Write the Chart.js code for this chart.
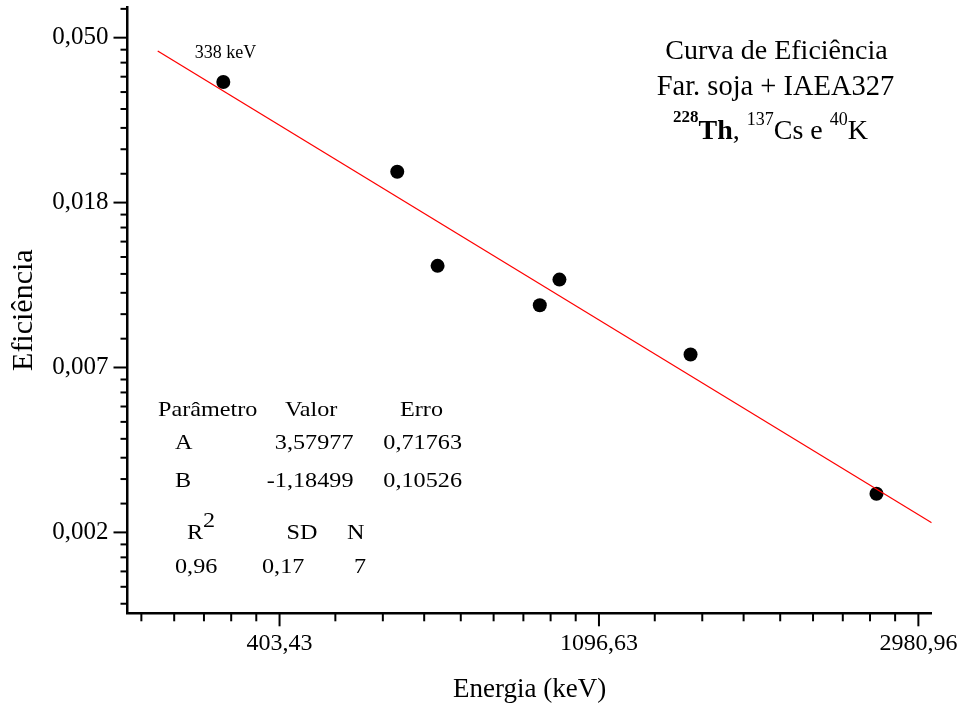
<!DOCTYPE html>
<html>
<head>
<meta charset="utf-8">
<script src="https://cdn.jsdelivr.net/npm/chart.js@4.4.0/dist/chart.umd.min.js"></script>
<style>
body { margin: 0; background: #fff; }
canvas { display: block; }
</style>
</head>
<body>
<canvas id="grafico" width="961" height="708"></canvas>
<script>
const energias = [338.3, 583.2, 661.7, 911.2, 969.0, 1460.8, 2614.5];
const eficiencias = [0.03805, 0.02209, 0.01248, 0.00983, 0.01148, 0.00729, 0.003133];

// extremos da reta ajustada
const retaEnergias = [275.5, 3108];
const retaEficiencias = [0.04593, 0.002628];

// marcas principais em ln e seus rótulos
const marcasX = [6, 7, 8];
const rotulosX = ['403,43', '1096,63', '2980,96'];
const marcasY = [-6, -5, -4, -3];
const rotulosY = ['0,002', '0,007', '0,018', '0,050'];

// tabela do ajuste
const parametros = ['A', 'B'];
const valores = ['3,57977', '-1,18499'];
const erros = ['0,71763', '0,10526'];
const estatisticas = ['0,96', '0,17', '7'];

const limitesX = [5.524, 8.0417];
const limitesY = [-6.4906, -2.814];

const serif = '"Liberation Serif", "Times New Roman", serif';

function marcasLog(min, max) {
    // marcas principais nas potências de e, 8 secundárias lineares entre elas
    const lista = [];
    for (let k = Math.floor(min) - 1; k <= Math.ceil(max); k++) {
        const a = Math.exp(k), b = Math.exp(k + 1);
        if (k >= min && k <= max) lista.push({ value: k, principal: true });
        for (let j = 1; j <= 8; j++) {
            const v = Math.log(a + j * (b - a) / 9);
            if (v >= min && v <= max) lista.push({ value: v, principal: false });
        }
    }
    return lista.sort((p, q) => p.value - q.value);
}

function semPadding(s) {
    s.paddingTop = 0;
    s.paddingBottom = 0;
    s.paddingLeft = 0;
    s.paddingRight = 0;
}

function texto(ctx, s, x, y, fonte, esticar) {
    ctx.save();
    ctx.font = fonte;
    ctx.translate(x, y);
    ctx.scale(esticar || 1, 1);
    ctx.fillText(s, 0, 0);
    ctx.restore();
}

const anotacoes = {
    id: 'anotacoes',
    afterDraw(chart) {
        const ctx = chart.ctx;
        const sx = chart.scales.x, sy = chart.scales.y;
        ctx.save();
        ctx.strokeStyle = '#000';
        ctx.lineWidth = 2;
        // marcas do eixo x
        sx.ticks.forEach(t => {
            const px = sx.getPixelForValue(t.value);
            ctx.beginPath();
            ctx.moveTo(px, sy.bottom);
            ctx.lineTo(px, sy.bottom + (t.principal ? 13 : 8));
            ctx.stroke();
        });
        // marcas do eixo y
        sy.ticks.forEach(t => {
            const py = sy.getPixelForValue(t.value);
            ctx.beginPath();
            ctx.moveTo(sx.left, py);
            ctx.lineTo(sx.left - (t.principal ? 14 : 7), py);
            ctx.stroke();
        });

        ctx.fillStyle = '#000';
        ctx.textBaseline = 'alphabetic';
        ctx.textAlign = 'center';
        texto(ctx, '338 keV', 225.5, 58, '18px ' + serif);
        texto(ctx, 'Curva de Eficiência', 776.5, 59, '28px ' + serif);
        texto(ctx, 'Far. soja + IAEA327', 775.5, 95, '28.5px ' + serif);

        // linha com sobrescritos
        const partes = [
            ['228', 'bold 17px ' + serif, 17],
            ['Th', 'bold 28px ' + serif, 0],
            [', ', '28px ' + serif, 0],
            ['137', '18px ' + serif, 14],
            ['Cs e ', '28px ' + serif, 0],
            ['40', '18px ' + serif, 14],
            ['K', '28px ' + serif, 0]
        ];
        ctx.textAlign = 'left';
        let largura = 0;
        partes.forEach(p => { ctx.font = p[1]; largura += ctx.measureText(p[0]).width; });
        let x = 770.5 - largura / 2;
        partes.forEach(p => {
            ctx.font = p[1];
            ctx.fillText(p[0], x, 139 - p[2]);
            x += ctx.measureText(p[0]).width;
        });

        // tabela de parâmetros
        const f = '22px ' + serif, e = 1.1;
        texto(ctx, 'Parâmetro', 158, 416, f, e);
        texto(ctx, 'Valor', 285, 416, f, e);
        texto(ctx, 'Erro', 400, 416, f, e);
        parametros.forEach((p, i) => texto(ctx, p, 175, 449 + i * 37.5, f, e));
        ctx.textAlign = 'right';
        valores.forEach((v, i) => texto(ctx, v, 353.5, 449 + i * 37.5, f, e));
        erros.forEach((v, i) => texto(ctx, v, 462, 449 + i * 37.5, f, e));
        ctx.textAlign = 'left';
        texto(ctx, 'R', 187, 539, f, e);
        texto(ctx, '2', 203, 527, f, e);
        texto(ctx, 'SD', 286.5, 539, f, e);
        texto(ctx, 'N', 347, 539, f, e);
        texto(ctx, estatisticas[0], 175, 573, f, e);
        texto(ctx, estatisticas[1], 262, 573, f, e);
        texto(ctx, estatisticas[2], 354, 573, f, e);
        ctx.restore();
    }
};

const pontos = energias.map((en, i) => ({ x: Math.log(en), y: Math.log(eficiencias[i]) }));
const reta = retaEnergias.map((en, i) => ({ x: Math.log(en), y: Math.log(retaEficiencias[i]) }));

new Chart(document.getElementById('grafico'), {
    type: 'scatter',
    data: {
        datasets: [
            {
                data: reta,
                showLine: true,
                borderColor: '#ff0000',
                borderWidth: 1.3,
                pointRadius: 0
            },
            {
                data: pontos,
                backgroundColor: '#000',
                borderWidth: 0,
                pointRadius: 7
            }
        ]
    },
    options: {
        responsive: false,
        animation: false,
        devicePixelRatio: 1,
        layout: { padding: { top: 7, right: 29.3, left: 0, bottom: 0 } },
        plugins: { legend: { display: false }, tooltip: { enabled: false } },
        scales: {
            x: {
                type: 'linear',
                min: limitesX[0],
                max: limitesX[1],
                afterBuildTicks: s => { s.ticks = marcasLog(limitesX[0], limitesX[1]); },
                afterFit: s => { s.height = 94.7; semPadding(s); },
                grid: { display: false, drawTicks: false },
                border: { display: true, color: '#000', width: 2.5 },
                ticks: {
                    autoSkip: false,
                    maxRotation: 0,
                    padding: 16,
                    color: '#000',
                    font: { family: serif, size: 24 },
                    callback: v => { const i = marcasX.indexOf(v); return i >= 0 ? rotulosX[i] : ''; }
                },
                title: {
                    display: true,
                    text: 'Energia (keV)',
                    color: '#000',
                    font: { family: serif, size: 27 },
                    padding: { top: 0, bottom: 2 }
                }
            },
            y: {
                type: 'linear',
                min: limitesY[0],
                max: limitesY[1],
                afterBuildTicks: s => { s.ticks = marcasLog(limitesY[0], limitesY[1]); },
                afterFit: s => { s.width = 127.5; semPadding(s); },
                grid: { display: false, drawTicks: false },
                border: { display: true, color: '#000', width: 2.5 },
                ticks: {
                    autoSkip: false,
                    padding: 19,
                    color: '#000',
                    font: { family: serif, size: 25 },
                    callback: v => { const i = marcasY.indexOf(v); return i >= 0 ? rotulosY[i] : ''; }
                },
                title: {
                    display: true,
                    text: 'Eficiência',
                    color: '#000',
                    font: { family: serif, size: 30 },
                    padding: { top: 6, bottom: 0 }
                }
            }
        }
    },
    plugins: [anotacoes]
});
</script>
</body>
</html>
